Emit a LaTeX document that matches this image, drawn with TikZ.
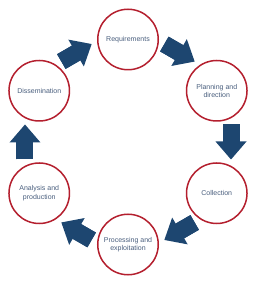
\documentclass[tikz,border=0pt]{standalone}
\usepackage{fontspec}
\setmainfont{Liberation Sans}
\usepackage{xcolor}
\definecolor{StageRed}{HTML}{B41F2E}
\definecolor{FlowBlue}{HTML}{1D4670}
\definecolor{LabelGrey}{HTML}{4A5F7E}
\usetikzlibrary{arrows.meta}

\begin{document}
\begin{tikzpicture}[every node/.style={font=\fontsize{7}{8.2}\selectfont, align=center, text=LabelGrey},
  stage/.style={draw=StageRed, line width=1.5pt, circle, minimum size=60.5pt, inner sep=0pt, fill=white},
  flow/.style={draw=FlowBlue, line width=17pt, -{Triangle[length=18pt, width=31pt, line width=0pt]},
    postaction={draw=FlowBlue, line width=17pt, -, shorten >=16.5pt}}]
  \useasboundingbox (-128pt,-141pt) rectangle (128pt,142pt);
  \node[stage] (req) at (90:102.5pt) {Requirements};
  \node[stage] (plan) at (30:102.5pt) {Planning and\\direction};
  \node[stage] (coll) at (-30:102.5pt) {Collection};
  \node[stage] (proc) at (-90:102.5pt) {Processing and\\exploitation};
  \node[stage] (anal) at (-150:102.5pt) {Analysis and\\production};
  \node[stage] (diss) at (150:102.5pt) {Dissemination};
  % arrow midpoints on the outer ring
  \coordinate (diss-req) at (120:103pt);
  \coordinate (req-plan) at (60:103pt);
  \coordinate (plan-coll) at (0:103pt);
  \coordinate (coll-proc) at (-60:103pt);
  \coordinate (proc-anal) at (-120:103pt);
  \coordinate (anal-diss) at (180:103pt);
  \draw[flow] ([shift={(210:17.5pt)}]diss-req) -- ([shift={(30:17.5pt)}]diss-req);
  \draw[flow] ([shift={(150:17.5pt)}]req-plan) -- ([shift={(-30:17.5pt)}]req-plan);
  \draw[flow] ([shift={(90:17.5pt)}]plan-coll) -- ([shift={(-90:17.5pt)}]plan-coll);
  \draw[flow] ([shift={(30:17.5pt)}]coll-proc) -- ([shift={(-150:17.5pt)}]coll-proc);
  \draw[flow] ([shift={(-30:17.5pt)}]proc-anal) -- ([shift={(150:17.5pt)}]proc-anal);
  \draw[flow] ([shift={(-90:17.5pt)}]anal-diss) -- ([shift={(90:17.5pt)}]anal-diss);
\end{tikzpicture}
\end{document}
